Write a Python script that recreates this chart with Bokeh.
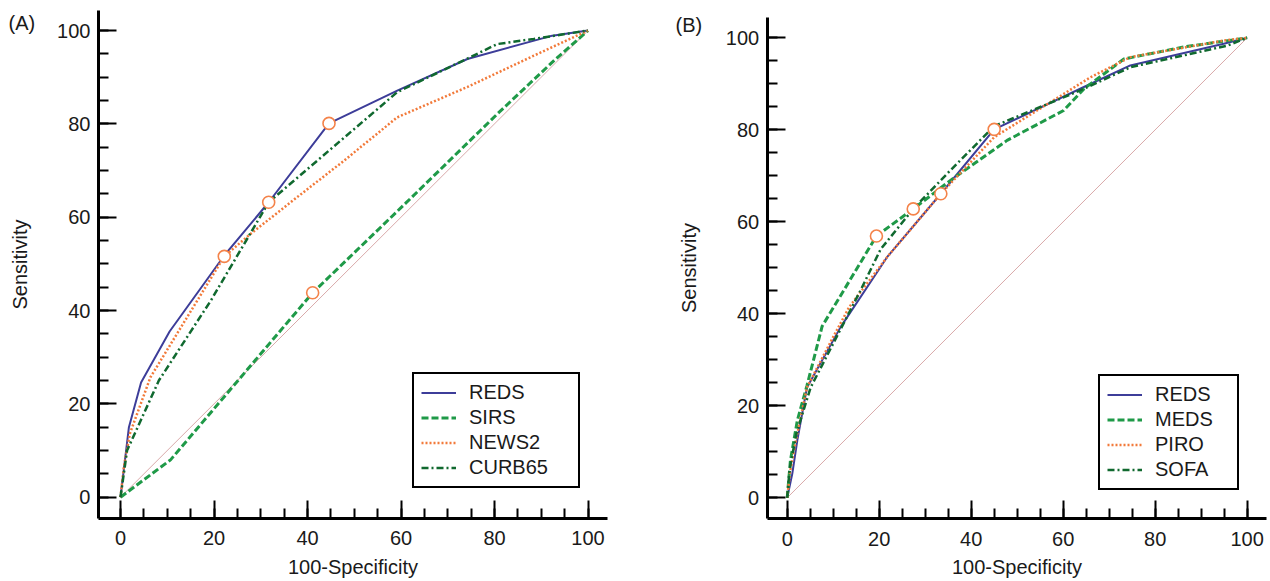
from bokeh.plotting import figure
from bokeh.layouts import row
from bokeh.models import Range1d, SingleIntervalTicker, Legend, LegendItem, Label
from bokeh.embed import file_html
from bokeh.resources import INLINE

# ---------------- data ----------------
diag_x = [0, 100]
diag_y = [0, 100]

# Panel A
a_reds_x = [0, 0.6, 1.8, 4.4, 10.5, 22.2, 31.7, 44.6, 59.2, 74.2, 92.0, 100]
a_reds_y = [0, 5.0, 15.0, 24.6, 35.5, 51.8, 63.2, 80.1, 87.1, 93.9, 98.8, 100]
a_sirs_x = [0, 10.7, 41.1, 61.0, 81.0, 93.0, 100]
a_sirs_y = [0, 8.0, 43.8, 63.0, 82.5, 93.8, 100]
a_news2_x = [0, 0.7, 2.0, 6.4, 16.4, 22.2, 27.8, 37.8, 47.8, 59.2, 74.2, 88.4, 100]
a_news2_y = [0, 6.4, 13.6, 25.7, 42.1, 51.6, 56.4, 64.3, 72.1, 81.4, 87.9, 94.6, 100]
a_curb65_x = [0, 1.4, 8.2, 19.3, 31.7, 59.2, 74.2, 80.6, 88.4, 100]
a_curb65_y = [0, 10.0, 25.0, 42.1, 63.2, 86.8, 94.0, 97.1, 98.2, 100]
a_crit_x = [44.6, 41.1, 22.2, 31.7]
a_crit_y = [80.1, 43.8, 51.6, 63.2]

# Panel B
b_reds_x = [0, 1.1, 2.2, 4.3, 11.6, 21.7, 33.4, 45.0, 64.5, 74.6, 94.9, 100]
b_reds_y = [0, 5.2, 12.5, 24.0, 37.1, 52.3, 66.1, 80.1, 89.3, 94.0, 98.7, 100]
b_meds_x = [0, 0.7, 2.2, 4.3, 7.6, 19.4, 27.4, 35.5, 47.8, 60.1, 64.5, 73.2, 86.2, 100]
b_meds_y = [0, 8.1, 16.8, 24.4, 37.3, 56.9, 62.8, 69.0, 77.7, 84.2, 88.9, 95.4, 98.0, 100]
b_piro_x = [0, 0.6, 2.0, 4.3, 9.6, 13.5, 21.7, 33.4, 45.0, 65.9, 74.6, 94.9, 100]
b_piro_y = [0, 5.5, 13.0, 24.0, 34.2, 41.5, 52.3, 66.1, 78.4, 91.4, 95.8, 99.4, 100]
b_sofa_x = [0, 0.5, 2.0, 5.1, 8.7, 15.9, 20.3, 27.4, 35.5, 45.0, 64.5, 74.6, 95.7, 100]
b_sofa_y = [0, 6.0, 14.0, 24.0, 31.0, 45.0, 54.0, 62.8, 71.2, 80.8, 88.9, 93.6, 98.3, 100]
b_crit_x = [45.0, 19.4, 33.4, 27.4]
b_crit_y = [80.1, 56.9, 66.1, 62.8]

# ---------------- styles ----------------
FONT = "Liberation Sans"
C_NAVY = "#3d3d99"
C_GREEN = "#1f9a48"
C_ORANGE = "#f27a3a"
C_DKGREEN = "#10692f"
C_DIAG = "#d9a9a9"
C_MARK = "#f4834a"
C_TEXT = "#1a1a1a"

STYLES = [
    dict(color=C_NAVY, line_width=2.0, line_dash="solid"),
    dict(color=C_GREEN, line_width=3.0, line_dash="7 3"),
    dict(color=C_ORANGE, line_width=2.5, line_dash="2 2"),
    dict(color=C_DKGREEN, line_width=2.5, line_dash="7 3 2 3"),
]

FIG_H = 581


def make_panel(tag, series, crit_x, crit_y, width, xr, yr, xbounds, ybounds,
               legend_loc, label_width, tag_pos, ylab_standoff):
    p = figure(width=width, height=FIG_H, output_backend="svg", toolbar_location=None,
               x_range=Range1d(*xr), y_range=Range1d(*yr),
               min_border_left=0, min_border_right=0,
               min_border_top=0, min_border_bottom=0)
    p.outline_line_color = None
    p.background_fill_color = "white"
    p.border_fill_color = "white"
    p.xgrid.visible = False
    p.ygrid.visible = False

    for ax, lab in ((p.xaxis[0], "100-Specificity"), (p.yaxis[0], "Sensitivity")):
        ax.ticker = SingleIntervalTicker(interval=20, num_minor_ticks=4)
        ax.axis_label = lab
        ax.axis_label_text_font = FONT
        ax.axis_label_text_font_size = "20px"
        ax.axis_label_text_font_style = "normal"
        ax.axis_label_text_color = C_TEXT
        ax.major_label_text_font = FONT
        ax.major_label_text_font_size = "20px"
        ax.major_label_text_color = C_TEXT
        ax.axis_line_width = 3
        ax.axis_line_color = "black"
        ax.major_tick_line_width = 2
        ax.minor_tick_line_width = 2
        ax.major_tick_line_color = "black"
        ax.minor_tick_line_color = "black"
        ax.major_tick_in = 18
        ax.major_tick_out = 0
        ax.minor_tick_in = 10
        ax.minor_tick_out = 0
    # axes drawn at the offset spine positions
    p.xaxis[0].fixed_location = ybounds[0]
    p.xaxis[0].bounds = xbounds
    p.yaxis[0].fixed_location = xbounds[0]
    p.yaxis[0].bounds = ybounds
    p.yaxis[0].major_label_standoff = 8
    p.yaxis[0].axis_label_standoff = ylab_standoff
    p.xaxis[0].major_label_standoff = 13
    p.xaxis[0].axis_label_standoff = 7

    p.line(diag_x, diag_y, color=C_DIAG, line_width=1)

    items = []
    for (name, xs, ys), st in zip(series, STYLES):
        r = p.line(xs, ys, line_color=st["color"], line_width=st["line_width"],
                   line_dash=st["line_dash"])
        items.append(LegendItem(label=name, renderers=[r]))

    p.scatter(crit_x, crit_y, marker="circle", size=12, line_color=C_MARK,
              line_width=1.6, fill_color="white")

    leg = Legend(items=items, location=legend_loc, margin=0, padding=7, spacing=2,
                 glyph_width=35, glyph_height=23, label_height=23,
                 label_width=label_width, label_standoff=13,
                 label_text_font=FONT, label_text_font_size="20px",
                 label_text_color=C_TEXT,
                 border_line_color="black", border_line_width=2,
                 border_line_alpha=1.0,
                 background_fill_color="white", background_fill_alpha=1.0)
    p.add_layout(leg, "center")

    p.add_layout(Label(x=tag_pos[0], y=tag_pos[1], x_units="screen", y_units="screen",
                       text=tag, text_font=FONT, text_font_size="20px",
                       text_color=C_TEXT, text_baseline="top", text_align="left"))
    return p


pa = make_panel(
    "(A)",
    [("REDS", a_reds_x, a_reds_y), ("SIRS", a_sirs_x, a_sirs_y),
     ("NEWS2", a_news2_x, a_news2_y), ("CURB65", a_curb65_x, a_curb65_y)],
    a_crit_x, a_crit_y,
    width=635, xr=(-25.67, 110.16), yr=(-18.06, 106.43),
    xbounds=(-4.71, 104.17), ybounds=(-4.56, 104.3),
    legend_loc=(412, 93), label_width=102,
    tag_pos=(8, 570), ylab_standoff=23,
)

pb = make_panel(
    "(B)",
    [("REDS", b_reds_x, b_reds_y), ("MEDS", b_meds_x, b_meds_y),
     ("PIRO", b_piro_x, b_piro_y), ("SOFA", b_sofa_x, b_sofa_y)],
    b_crit_x, b_crit_y,
    width=635, xr=(-32.98, 105.07), yr=(-18.2, 108.11),
    xbounds=(-4.35, 104.3), ybounds=(-4.57, 104.5),
    legend_loc=(463, 91), label_width=75,
    tag_pos=(40, 568), ylab_standoff=23,
)

layout = row(pa, pb)
open("out.html", "w").write(file_html(layout, INLINE))
